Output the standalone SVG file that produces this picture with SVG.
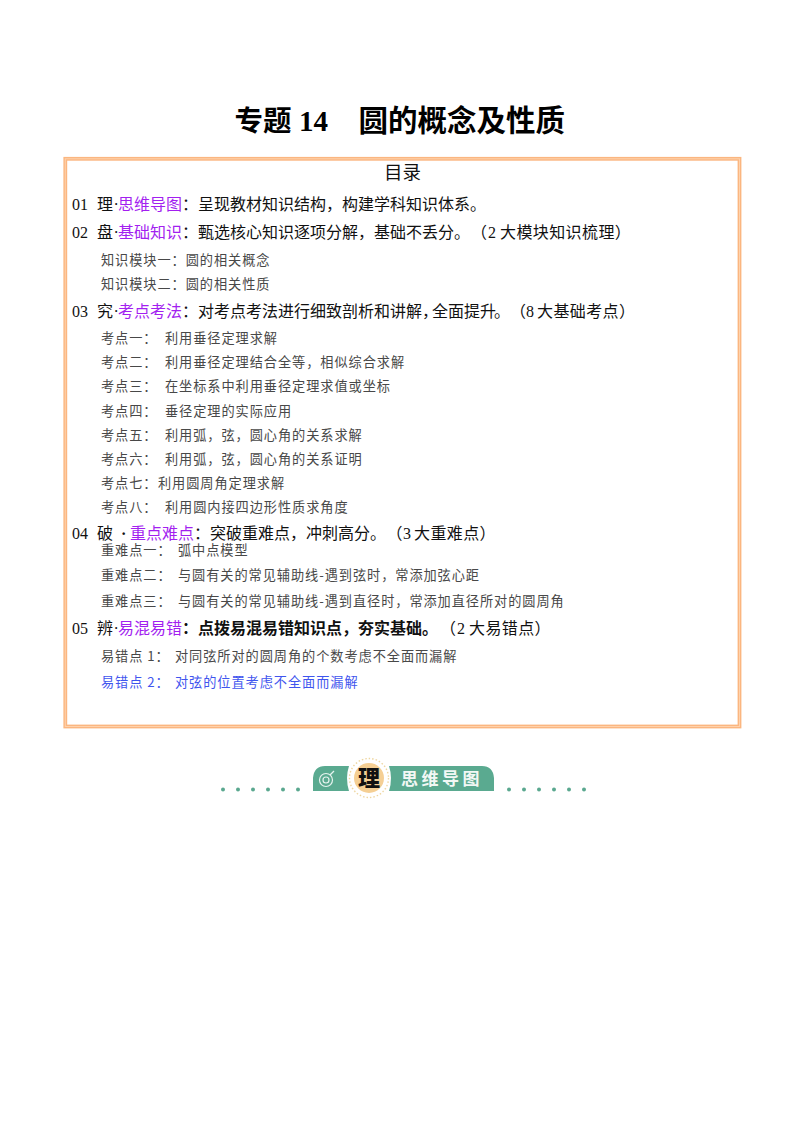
<svg xmlns="http://www.w3.org/2000/svg" width="800" height="1132" viewBox="0 0 800 1132">
<style>
text{font-family:"Noto Sans CJK SC","Noto Sans",sans-serif}
.n{font-family:"Liberation Serif",serif}
.t{font-size:16px;fill:#111}
.w{letter-spacing:.4px}
.b{font-weight:700}
.p{fill:#a31ff0}
.s{font-size:13.2px;fill:#484848;letter-spacing:.93px}
.u{fill:#3f55ee}
.dot{fill:#5aa88f}
</style>
<rect width="800" height="1132" fill="#fff"/>
<g id="title">
<text x="234.500" y="131" font-size="28.500" font-weight="700" fill="#000">专题</text>
<text class="n" x="299" y="131" font-size="29" font-weight="700" fill="#000">14</text>
<text x="358.500" y="131" font-size="29.500" font-weight="700" fill="#000">圆的概念及性质</text>
</g>
<g id="frame" fill="none">
<rect x="65.300" y="158.800" width="674.200" height="567.700" stroke="#fbb680" stroke-width="3.800"/>
<rect x="65.300" y="158.800" width="674.200" height="567.700" stroke="#fed2ac" stroke-width="1"/>
</g>
<g id="toc">
<text x="384" y="179" font-size="18.500" fill="#111">目录</text>
<g id="sec1">
<text class="t n" x="72" y="209.500">01</text><text class="t" x="97" y="209.500">理</text><text class="t n" x="113.500" y="209.500">·</text><text class="t p" x="118" y="209.500">思维导图</text><text class="t" x="182" y="209.500">：呈现教材知识结构，构建学科知识体系。</text>
</g>
<g id="sec2">
<text class="t n" x="72" y="238">02</text><text class="t" x="97" y="238">盘</text><text class="t n" x="113.500" y="238">·</text><text class="t p" x="118" y="238">基础知识</text><text class="t" x="182" y="238">：甄选核心知识逐项分解，基础不丢分。</text><text class="t" x="471" y="238">（</text><text class="t n" x="488" y="238">2</text><text class="t w" x="500" y="238">大模块知识梳理）</text>
<text class="s" x="101" y="265">知识模块一：圆的相关概念</text>
<text class="s" x="101" y="289">知识模块二：圆的相关性质</text>
</g>
<g id="sec3">
<text class="t n" x="72" y="316.500">03</text><text class="t" x="97" y="316.500">究</text><text class="t n" x="113.500" y="316.500">·</text><text class="t p" x="118" y="316.500">考点考法</text><text class="t" x="182" y="316.500">：对考点考法进行细致剖析和讲解，</text><text class="t" x="432" y="316.500">全面提升</text><text class="t" x="494" y="316.500">。</text><text class="t" x="510" y="316.500">（</text><text class="t n" x="526" y="316.500">8</text><text class="t w" x="537" y="316.500">大基础考点）</text>
<text class="s" x="101" y="343">考点一：</text><text class="s" x="165" y="343">利用垂径定理求解</text>
<text class="s" x="101" y="367">考点二：</text><text class="s" x="165" y="367">利用垂径定理结合全等，相似综合求解</text>
<text class="s" x="101" y="391">考点三：</text><text class="s" x="165" y="391">在坐标系中利用垂径定理求值或坐标</text>
<text class="s" x="101" y="416">考点四：</text><text class="s" x="165" y="416">垂径定理的实际应用</text>
<text class="s" x="101" y="440">考点五：</text><text class="s" x="165" y="440">利用弧，弦，圆心角的关系求解</text>
<text class="s" x="101" y="464">考点六：</text><text class="s" x="165" y="464">利用弧，弦，圆心角的关系证明</text>
<text class="s" x="101" y="488">考点七：</text><text class="s" x="158" y="488">利用圆周角定理求解</text>
<text class="s" x="101" y="512">考点八：</text><text class="s" x="165" y="512">利用圆内接四边形性质求角度</text>
</g>
<g id="sec4">
<text class="t n" x="72" y="538.500">04</text><text class="t" x="97" y="538.500">破</text><text class="t n b" x="121" y="538.500">·</text><text class="t p" x="130" y="538.500">重点难点</text><text class="t" x="194" y="538.500">：突破重难点，冲刺高分。</text><text class="t" x="386.500" y="538.500">（</text><text class="t n" x="403" y="538.500">3</text><text class="t w" x="414" y="538.500">大重难点）</text>
<text class="s" x="101" y="555">重难点一：</text><text class="s" x="178" y="555">弧中点模型</text>
<text class="s" x="101" y="580">重难点二：</text><text class="s" x="178" y="580">与圆有关的常见辅助线-遇到弦时，常添加弦心距</text>
<text class="s" x="101" y="606">重难点三：</text><text class="s" x="178" y="606">与圆有关的常见辅助线-遇到直径时，常添加直径所对的圆周角</text>
</g>
<g id="sec5">
<text class="t n" x="72" y="633.500">05</text><text class="t" x="97" y="633.500">辨</text><text class="t n" x="113.500" y="633.500">·</text><text class="t p" x="118" y="633.500">易混易错</text><text class="t b" x="182" y="633.500">：点拨易混易错知识点，夯实基础。</text><text class="t" x="440" y="633.500">（</text><text class="t n" x="457" y="633.500">2</text><text class="t w" x="469" y="633.500">大易错点）</text>
<text class="s" x="101" y="661">易错点 1：</text><text class="s" x="175" y="661">对同弦所对的圆周角的个数考虑不全面而漏解</text>
<text class="s u" x="101" y="687">易错点 2：</text><text class="s u" x="175" y="687">对弦的位置考虑不全面而漏解</text>
</g>
</g>
<g id="banner">
<g id="dots-left"><circle class="dot" cx="223" cy="789.500" r="2"/><circle class="dot" cx="238" cy="789.500" r="2"/><circle class="dot" cx="253" cy="789.500" r="2"/><circle class="dot" cx="268" cy="789.500" r="2"/><circle class="dot" cx="283" cy="789.500" r="2"/><circle class="dot" cx="298" cy="789.500" r="2"/></g>
<g id="dots-right"><circle class="dot" cx="509" cy="789.500" r="2"/><circle class="dot" cx="524" cy="789.500" r="2"/><circle class="dot" cx="539" cy="789.500" r="2"/><circle class="dot" cx="554" cy="789.500" r="2"/><circle class="dot" cx="569" cy="789.500" r="2"/><circle class="dot" cx="584" cy="789.500" r="2"/></g>
<path d="M313 791V778Q314 766 325 766H349Q345 778 349 791Z" fill="#5aaa90"/>
<path d="M389 766H482Q493 766 494 778V791H389Q393 778 389 766Z" fill="#5aaa90"/>
<g fill="none" stroke="#e6f3ee" stroke-width="1.200"><circle cx="326" cy="780" r="6.500"/><circle cx="326" cy="780" r="3"/><path d="M330 775l4-4"/></g>
<circle cx="369" cy="778" r="19.500" fill="#fff" stroke="#eed6a0" stroke-width="1.400" stroke-dasharray="1.500 2"/>
<circle cx="369" cy="778" r="15" fill="#f5cf94"/>
<text x="369" y="786" font-size="22" font-weight="900" text-anchor="middle" fill="#111">理</text>
<text x="401" y="785" font-size="17" font-weight="700" fill="#f2f8f5" letter-spacing="3.500">思维导图</text>
</g>
</svg>
